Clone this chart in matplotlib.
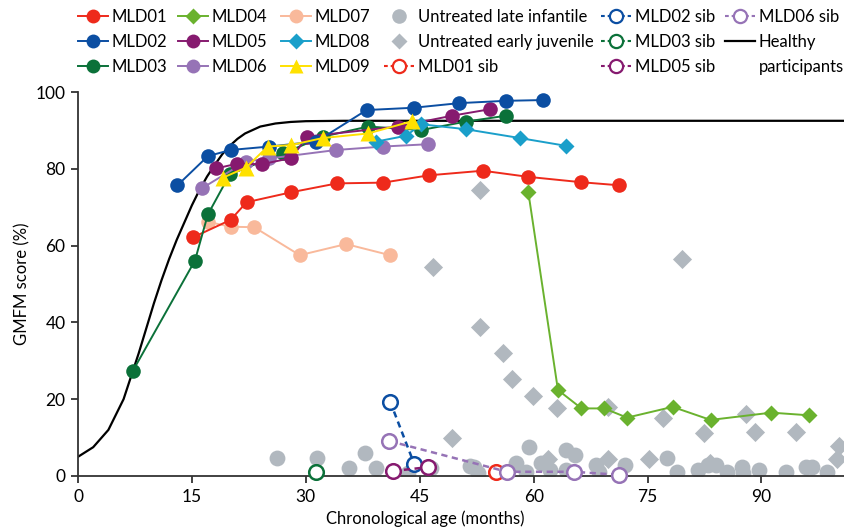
import matplotlib
matplotlib.use("Agg")
import matplotlib.pyplot as plt
from matplotlib.lines import Line2D

plt.rcParams['font.family'] = ['Lato', 'DejaVu Sans']

# ---------------- data ----------------
mld01_x = [15.2, 20.1, 22.2, 28.1, 34.1, 40.2, 46.2, 53.3, 59.3, 66.3, 71.3]
mld01_y = [62.2, 66.7, 71.3, 73.9, 76.2, 76.4, 78.3, 79.5, 77.9, 76.5, 75.7]

mld02_x = [13.1, 17.1, 20.1, 25.2, 31.4, 38.0, 44.2, 50.2, 56.3, 61.2]
mld02_y = [75.7, 83.3, 84.9, 85.8, 87.1, 95.3, 95.9, 97.1, 97.7, 97.9]

mld03_x = [7.2, 15.4, 17.1, 20.0, 27.0, 32.3, 38.2, 45.2, 51.1, 56.3]
mld03_y = [27.3, 56.1, 68.1, 78.6, 84.0, 88.4, 91.0, 90.1, 92.3, 93.8]

mld04_x = [59.3, 63.2, 66.3, 69.3, 72.3, 78.3, 83.3, 91.3, 96.3]
mld04_y = [73.9, 22.4, 17.6, 17.6, 15.2, 18.0, 14.6, 16.5, 15.8]

mld05_x = [18.2, 20.9, 24.2, 28.1, 30.2, 42.1, 49.2, 54.2]
mld05_y = [80.1, 81.3, 81.2, 82.8, 88.4, 91.0, 93.8, 95.5]

mld06_x = [16.3, 22.1, 25.2, 34.0, 40.2, 46.1]
mld06_y = [74.9, 81.9, 82.7, 84.9, 85.8, 86.4]

mld07_x = [17.1, 20.1, 23.2, 29.2, 35.3, 41.1]
mld07_y = [66.2, 64.9, 64.8, 57.5, 60.4, 57.5]

mld08_x = [39.3, 43.2, 45.2, 51.1, 58.2, 64.2]
mld08_y = [87.1, 88.6, 91.6, 90.3, 88.0, 86.0]

mld09_x = [19.1, 22.1, 25.0, 28.1, 32.2, 38.2, 44.0]
mld09_y = [77.7, 80.3, 85.8, 86.2, 88.0, 89.2, 92.4]

late_inf_x = [26.2, 31.5, 35.7, 37.8, 39.2, 43.5, 46.5, 51.6, 52.2, 52.7, 57.7, 59.4,
              59.0, 61.0, 62.1, 64.2, 65.4, 64.3, 68.2, 68.6, 72.0, 77.5, 78.9, 81.6,
              82.9, 84.0, 85.4, 87.5, 87.6, 89.7, 93.2, 95.9, 96.7, 98.6]
late_inf_y = [4.8, 4.8, 2.0, 5.9, 2.0, 0.9, 2.0, 2.6, 2.4, 0.7, 3.3, 7.6,
              1.1, 3.3, 1.6, 6.8, 5.5, 1.6, 2.9, 1.1, 2.9, 4.6, 1.1, 1.6,
              2.9, 2.9, 1.1, 2.4, 0.9, 1.6, 1.1, 2.4, 2.4, 1.1]

early_juv_x = [52.9, 46.8, 52.9, 55.9, 57.1, 59.9, 63.1, 69.8, 77.0, 79.5, 82.4, 87.9,
               89.2, 94.6, 100.2, 100.0, 49.3, 61.9, 69.8, 75.2, 83.2]
early_juv_y = [74.5, 54.3, 38.9, 32.1, 25.3, 20.8, 17.6, 18.0, 15.0, 56.4, 11.3, 16.1,
               11.5, 11.5, 7.9, 4.3, 10.0, 4.3, 4.3, 4.3, 3.5]

sib01_x, sib01_y = [55.1], [1.1]
sib02_x, sib02_y = [41.1, 44.3], [19.4, 3.0]
sib03_x, sib03_y = [31.3], [1.1]
sib05_x, sib05_y = [41.5, 46.1], [1.3, 2.3]
sib06_x, sib06_y = [41.0, 56.5, 65.3, 71.3], [9.1, 1.1, 1.1, 0.3]

healthy_x = [0, 2, 4, 6, 7, 8, 9, 10, 11, 12, 13, 14, 15, 16, 17, 18, 19, 20,
             21, 22, 24, 26, 28, 30, 35, 102]
healthy_y = [5.0, 7.5, 12.0, 20.0, 26.0, 32.0, 38.5, 45.0, 51.0, 56.5, 61.5, 66.0,
             70.5, 74.5, 78.0, 81.0, 83.8, 86.0, 87.8, 89.2, 91.0, 91.8, 92.2, 92.4,
             92.5, 92.5]

xticks = [0, 15, 30, 45, 60, 75, 90]
yticks = [0, 20, 40, 60, 80, 100]

# ---------------- style ----------------
C01 = '#ee2a1b'
C02 = '#0b4ea2'
C03 = '#0b7139'
C04 = '#6ab22e'
C05 = '#861a6f'
C06 = '#9673b6'
C07 = '#f9b99b'
C08 = '#1a9fca'
C09 = '#ffe100'
GRAY = '#b1b8bf'

W, H = 845, 530
fig = plt.figure(figsize=(W / 100, H / 100), dpi=100)
ax = fig.add_axes([78 / W, 54 / H, 1 - 78 / W, 384 / H])

ax.plot(healthy_x, healthy_y, color='black', lw=1.6, zorder=2)

ax.scatter(late_inf_x, late_inf_y, s=130, marker='o', color=GRAY, lw=0, zorder=1)
ax.scatter(early_juv_x, early_juv_y, s=95, marker='D', color=GRAY, lw=0, zorder=1)

ms = 10.5
lw = 1.4
series = [
    (mld07_x, mld07_y, C07, 'o', ms),
    (mld01_x, mld01_y, C01, 'o', ms),
    (mld03_x, mld03_y, C03, 'o', ms),
    (mld06_x, mld06_y, C06, 'o', ms),
    (mld05_x, mld05_y, C05, 'o', ms),
    (mld02_x, mld02_y, C02, 'o', ms),
    (mld08_x, mld08_y, C08, 'D', 8.5),
    (mld09_x, mld09_y, C09, '^', 11),
    (mld04_x, mld04_y, C04, 'D', 8.5),
]
for xs, ys, c, m, s in series:
    ax.plot(xs, ys, color=c, lw=lw, marker=m, ms=s, mec='none', zorder=3)

sibs = [
    (sib01_x, sib01_y, C01),
    (sib02_x, sib02_y, C02),
    (sib03_x, sib03_y, C03),
    (sib05_x, sib05_y, C05),
    (sib06_x, sib06_y, C06),
]
for xs, ys, c in sibs:
    ax.plot(xs, ys, color=c, lw=1.8, ls=(0, (2.5, 1.8)), marker='o', ms=10.5,
            mfc='white', mec=c, mew=1.8, zorder=4, clip_on=False)

ax.set_xlim(0, 101)
ax.set_ylim(0, 100)
ax.set_xticks(xticks)
ax.set_yticks(yticks)
for s in ['top', 'right']:
    ax.spines[s].set_visible(False)
for s in ['left', 'bottom']:
    ax.spines[s].set_linewidth(1.3)
    ax.spines[s].set_color('#333333')
ax.tick_params(direction='out', length=5, width=1.3, color='#333333',
               labelsize=12.5, pad=4)
ax.set_xlabel('Chronological age (months)', fontsize=12)
ax.xaxis.set_label_coords((425 - 78) / (845 - 78), -0.09)
ax.set_ylabel('GMFM score (%)', fontsize=12)
ax.yaxis.set_label_coords(-0.062, 0.5)

# ---------------- legend ----------------
def h_line(c, m, s):
    return Line2D([], [], color=c, lw=lw, marker=m, ms=s, mec='none')

def h_sib(c):
    return Line2D([], [], color=c, lw=1.5, ls=(0, (1.8, 1.4)), marker='o', ms=9.5,
                  mfc='white', mec=c, mew=1.6)

def h_gray(m, s):
    return Line2D([], [], ls='none', marker=m, ms=s, color=GRAY, mec='none')

columns = [
    (78, [h_line(C01, 'o', 10), h_line(C02, 'o', 10), h_line(C03, 'o', 10)],
     ['MLD01', 'MLD02', 'MLD03']),
    (178, [h_line(C04, 'D', 8), h_line(C05, 'o', 10), h_line(C06, 'o', 10)],
     ['MLD04', 'MLD05', 'MLD06']),
    (281, [h_line(C07, 'o', 10), h_line(C08, 'D', 8), h_line(C09, '^', 10.5)],
     ['MLD07', 'MLD08', 'MLD09']),
    (384, [h_gray('o', 10.5), h_gray('D', 8), h_sib(C01)],
     ['Untreated late infantile', 'Untreated early juvenile', 'MLD01 sib']),
    (601, [h_sib(C02), h_sib(C03), h_sib(C05)],
     ['MLD02 sib', 'MLD03 sib', 'MLD05 sib']),
    (725, [h_sib(C06), Line2D([], [], color='black', lw=1.6)],
     ['MLD06 sib', 'Healthy']),
]
legs = []
for x0, hs, ls_ in columns:
    lg = fig.legend(hs, ls_, loc='upper left', bbox_to_anchor=(x0 / W, 1 - 9 / H),
                    frameon=False, fontsize=12, handlelength=1.8,
                    handletextpad=0.22, labelspacing=0.55, borderaxespad=0.0,
                    borderpad=0.0)
    legs.append(lg)

# second line of the "Healthy participants" label, aligned under "Healthy"
fig.canvas.draw()
last = legs[-1].get_texts()[-1]
prev = legs[-2].get_texts()
bb_h = last.get_window_extent()
step = prev[1].get_window_extent().y0 - prev[2].get_window_extent().y0
fig.text(bb_h.x0 / W, (bb_h.y0 - step) / H, 'participants', fontsize=12,
         ha='left', va='bottom')

fig.savefig('out.png', dpi=100)
